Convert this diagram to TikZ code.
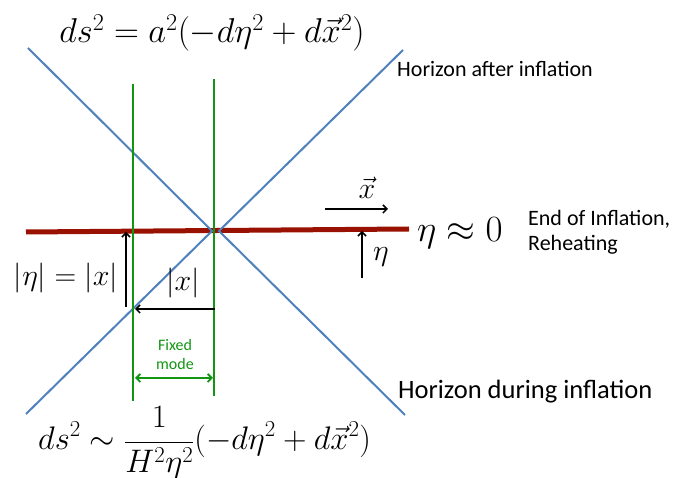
\RequirePackage{fix-cm}
\documentclass[tikz,border=0pt]{standalone}
\usepackage[no-math]{fontspec}
\newfontfamily\carlito{Carlito}
\usetikzlibrary{arrows.meta}
\definecolor{hblue}{RGB}{79,129,189}
\definecolor{rehred}{RGB}{153,17,0}
\definecolor{mgreen}{RGB}{18,150,18}
\begin{document}
\begin{tikzpicture}[x=1pt,y=-1pt,
  horizon/.style={draw=hblue, line width=2pt},
  modeline/.style={draw=mgreen, line width=2.2pt},
  rehline/.style={draw=rehred, line width=5pt},
  ptr/.style={draw=black, line width=1.5pt, -{Straight Barb[length=4pt,width=8pt]}},
  gptr/.style={draw=mgreen, line width=1.8pt, {Straight Barb[length=4pt,width=8pt]}-{Straight Barb[length=4pt,width=8pt]}},
  lbl/.style={inner sep=0pt},
  eq/.style={inner sep=0pt, font=\fontsize{30}{36}\selectfont}]
\useasboundingbox (0,0) rectangle (673,478);
\fill[white] (0,0) rectangle (673,478);
% reheating line
\coordinate (rL) at (26,232);
\coordinate (rR) at (409,229);
\draw[rehline] (rL) -- (rR);
% horizons
\coordinate (ulA) at (28,48);
\coordinate (llA) at (26,414);
\coordinate (vA) at (212,231);
\coordinate (urB) at (403,50);
\coordinate (lrB) at (405,415);
\coordinate (vB) at (219,231);
\draw[horizon] (ulA) -- (vA) -- (llA);
\draw[horizon] (urB) -- (vB) -- (lrB);
% mode lines
\coordinate (gLt) at (133,84);
\coordinate (gLb) at (133,401);
\coordinate (gRt) at (214,79);
\coordinate (gRb) at (214,396);
\draw[modeline] (gLt) -- (gLb);
\draw[modeline] (gRt) -- (gRb);
% arrows
\coordinate (a1s) at (126,307);
\coordinate (a1e) at (126,232);
\draw[ptr] (a1s) -- (a1e);
\coordinate (a2s) at (215,309);
\coordinate (a2e) at (135,309);
\draw[ptr] (a2s) -- (a2e);
\coordinate (a3s) at (325,209);
\coordinate (a3e) at (388,209);
\draw[ptr] (a3s) -- (a3e);
\coordinate (a4s) at (362,278);
\coordinate (a4e) at (362,231);
\draw[ptr] (a4s) -- (a4e);
\coordinate (fmL) at (135,378);
\coordinate (fmR) at (213,378);
\draw[gptr] (fmL) -- (fmR);
% labels
\node[lbl, anchor=base, font=\fontsize{34.5}{40}\selectfont] (topeq) at (212,43) {$ds^2 = a^2(-d\eta^2 + d\vec{x}^2)$};
\node[lbl, anchor=base west, font=\fontsize{32.6}{38}\selectfont] (boteq) at (38,450) {$\displaystyle ds^2 \sim \frac{1}{H^2\eta^2}(-d\eta^2 + d\vec{x}^2)$};
\node[eq, anchor=east] (etax) at (118,278) {$|\eta| = |x|$};
\node[eq] (absx) at (183,283) {$|x|$};
\node[eq] (xvec) at (367,188) {$\vec{x}$};
\node[eq] (etal) at (381,257) {$\eta$};
\node[lbl, anchor=base west, font=\fontsize{37}{44}\selectfont] (eta0) at (417,242) {$\eta\approx 0$};
\node[lbl, anchor=base west, font=\carlito\fontsize{22}{26}\selectfont] (hafter) at (397,77) {Horizon after inflation};
\node[lbl, anchor=base west, font=\carlito\fontsize{26.5}{31}\selectfont] (hduring) at (398,399) {Horizon during inflation};
\node[lbl, anchor=base west, font=\carlito\fontsize{22}{26}\selectfont] (endinf) at (528,225.5) {End of Inflation,};
\node[lbl, anchor=base west, font=\carlito\fontsize{22}{26}\selectfont] (reheat) at (528,250.5) {Reheating};
\node[lbl, anchor=base, text=mgreen, font=\carlito\fontsize{16}{19}\selectfont] (fixed) at (175,351) {Fixed};
\node[lbl, anchor=base, text=mgreen, font=\carlito\fontsize{16}{19}\selectfont] (mode) at (175,370) {mode};
\end{tikzpicture}
\end{document}
